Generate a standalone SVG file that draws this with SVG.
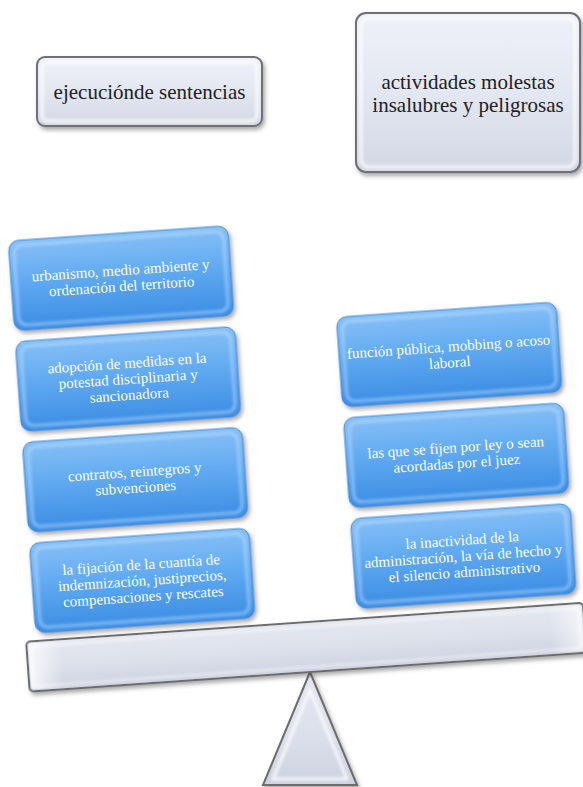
<svg xmlns="http://www.w3.org/2000/svg" width="583" height="787" viewBox="0 0 583 787">
<defs>
<linearGradient id="gBlue" x1="0" y1="0" x2="0" y2="1">
<stop offset="0" stop-color="#86C0F6"/>
<stop offset="0.45" stop-color="#61AAF1"/>
<stop offset="1" stop-color="#3A8CE3"/>
</linearGradient>
<linearGradient id="gGray" x1="0" y1="0" x2="0" y2="1">
<stop offset="0" stop-color="#EEF1F8"/>
<stop offset="0.5" stop-color="#E3E7F1"/>
<stop offset="1" stop-color="#D2D7E4"/>
</linearGradient>
<linearGradient id="gBeam" x1="0" y1="0" x2="0" y2="1">
<stop offset="0" stop-color="#E4E7EF"/>
<stop offset="0.5" stop-color="#DDE1EC"/>
<stop offset="1" stop-color="#CDD2E0"/>
</linearGradient>
<linearGradient id="gEdge" x1="0" y1="0" x2="1" y2="0">
<stop offset="0" stop-color="#FFFFFF" stop-opacity="0.75"/>
<stop offset="0.06" stop-color="#FFFFFF" stop-opacity="0"/>
<stop offset="0.94" stop-color="#FFFFFF" stop-opacity="0"/>
<stop offset="1" stop-color="#FFFFFF" stop-opacity="0.6"/>
</linearGradient>
<filter id="shadow" x="-10%" y="-10%" width="130%" height="140%">
<feDropShadow dx="2" dy="3" stdDeviation="2" flood-color="#404040" flood-opacity="0.45"/>
</filter>
<filter id="soft" x="-20%" y="-20%" width="140%" height="140%">
<feGaussianBlur stdDeviation="1.5"/>
</filter>
</defs>
<style>
.blue{fill:url(#gBlue);stroke:#3F8CDE;stroke-width:1;filter:url(#shadow)}
.blueHi{fill:none;stroke:#BFE0FF;stroke-opacity:0.55;stroke-width:3;filter:url(#soft)}
.gray{fill:url(#gGray);stroke:#6E6F74;stroke-width:2;filter:url(#shadow)}
.grayHi{fill:none;stroke:#FFFFFF;stroke-opacity:0.8;stroke-width:3;filter:url(#soft)}
.beam{fill:url(#gBeam);stroke:#6C6C6C;stroke-width:2;filter:url(#shadow)}
.edge{fill:url(#gEdge)}
.wt{font-family:"Liberation Serif","DejaVu Serif",serif;font-size:15px;fill:#FFFFFF;text-anchor:middle}
.dt{font-family:"Liberation Serif","DejaVu Serif",serif;font-size:21px;fill:#222222;text-anchor:middle}
</style>
<rect width="583" height="787" fill="#FFFFFF"/>

<g id="node-ejecucion">
<rect class="gray" x="37" y="57" width="225" height="69" rx="8"/>
<rect class="grayHi" x="42" y="62" width="215" height="59" rx="6"/>
<text class="dt" x="149.5" y="98.5">ejecuciónde sentencias</text>
</g>

<g id="node-actividades">
<rect class="gray" x="356" y="13" width="224" height="159" rx="10"/>
<rect class="grayHi" x="361" y="18" width="214" height="149" rx="8"/>
<text class="dt" x="468" y="89">actividades molestas</text>
<text class="dt" x="468" y="112">insalubres y peligrosas</text>
</g>

<g id="node-fulcrum">
<polygon class="beam" points="310,672 263,785 357,785"/>
<polygon points="310,690 273,779 347,779" fill="none" stroke="#FFFFFF" stroke-opacity="0.8" stroke-width="3" filter="url(#soft)"/>
</g>

<g transform="translate(310,672) rotate(-4)">
<g id="node-beam">
<rect class="beam" x="-281" y="-50" width="558" height="50" rx="4"/>
<rect class="edge" x="-279" y="-48" width="554" height="46" rx="3"/>
<rect x="-276" y="-45" width="548" height="40" rx="3" fill="none" stroke="#FFFFFF" stroke-opacity="0.6" stroke-width="2" filter="url(#soft)"/>
</g>

<g id="node-urbanismo">
<rect class="blue" x="-271" y="-451" width="220" height="90" rx="10"/>
<rect class="blueHi" x="-266" y="-446" width="210" height="80" rx="8"/>
<text class="wt" x="-161" y="-409">urbanismo, medio ambiente y</text>
<text class="wt" x="-161" y="-393">ordenación del territorio</text>
</g>

<g id="node-adopcion">
<rect class="blue" x="-271" y="-350" width="220" height="90" rx="10"/>
<rect class="blueHi" x="-266" y="-345" width="210" height="80" rx="8"/>
<text class="wt" x="-161" y="-316">adopción de medidas en la</text>
<text class="wt" x="-161" y="-300">potestad disciplinaria y</text>
<text class="wt" x="-161" y="-284">sancionadora</text>
</g>

<g id="node-contratos">
<rect class="blue" x="-271" y="-249" width="220" height="90" rx="10"/>
<rect class="blueHi" x="-266" y="-244" width="210" height="80" rx="8"/>
<text class="wt" x="-161" y="-207">contratos, reintegros y</text>
<text class="wt" x="-161" y="-191">subvenciones</text>
</g>

<g id="node-fijacion">
<rect class="blue" x="-271" y="-148" width="220" height="90" rx="10"/>
<rect class="blueHi" x="-266" y="-143" width="210" height="80" rx="8"/>
<text class="wt" x="-161" y="-114">la fijación de la cuantía de</text>
<text class="wt" x="-161" y="-98">indemnización, justiprecios,</text>
<text class="wt" x="-161" y="-82">compensaciones y rescates</text>
</g>

<g id="node-funcion">
<rect class="blue" x="51" y="-352" width="220" height="90" rx="10"/>
<rect class="blueHi" x="56" y="-347" width="210" height="80" rx="8"/>
<text class="wt" x="161" y="-310">función pública, mobbing o acoso</text>
<text class="wt" x="161" y="-294">laboral</text>
</g>

<g id="node-ley">
<rect class="blue" x="51" y="-251" width="220" height="90" rx="10"/>
<rect class="blueHi" x="56" y="-246" width="210" height="80" rx="8"/>
<text class="wt" x="161" y="-209">las que se fijen por ley o sean</text>
<text class="wt" x="161" y="-193">acordadas por el juez</text>
</g>

<g id="node-inactividad">
<rect class="blue" x="51" y="-150" width="220" height="90" rx="10"/>
<rect class="blueHi" x="56" y="-145" width="210" height="80" rx="8"/>
<text class="wt" x="161" y="-116">la inactividad de la</text>
<text class="wt" x="161" y="-100">administración, la vía de hecho y</text>
<text class="wt" x="161" y="-84">el silencio administrativo</text>
</g>
</g>

<g id="connectors"/>
</svg>
